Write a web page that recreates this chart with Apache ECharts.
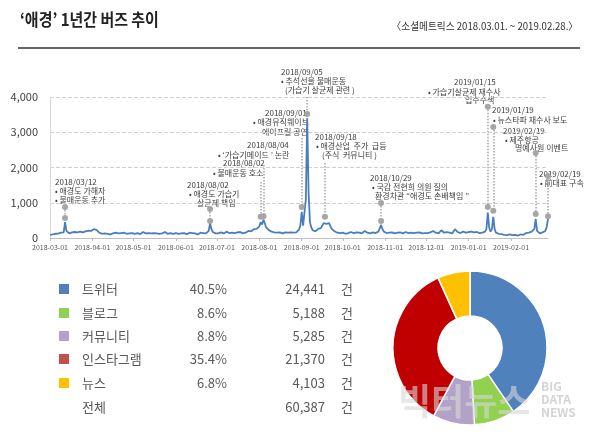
<!DOCTYPE html>
<html><head><meta charset="utf-8">
<script src="https://cdn.jsdelivr.net/npm/echarts@6/dist/echarts.min.js"></script>
<style>html,body{margin:0;padding:0;background:#fff}#c{width:600px;height:442px}</style>
</head><body><div id="c"></div>
<script>
// ---------- data ----------
const mar = [90,95,100,110,120,130,125,140,150,130,160,450,200,150,130,180,160,140,170,190,160,150,180,170,160,200,190,170,210,180,200];
const apr = [220,250,280,230,180,150,130,120,110,130,100,120,110,100,140,130,170,150,140,130,120,140,160,150,130,120,140,130,150,140];
const may = [130,120,150,140,120,110,130,170,150,130,120,140,110,130,160,140,120,130,150,120,110,130,140,170,150,120,110,140,130,120,150];
const jun = [140,130,120,150,130,160,140,120,110,130,150,180,140,120,130,110,100,120,150,130,140,160,130,150,200,420,250,170,140,130];
const jul = [150,130,170,160,140,130,150,180,160,140,130,150,170,140,130,160,150,170,140,130,160,150,180,200,170,190,220,250,230,260,300];
const aug = [330,450,380,520,420,300,250,220,200,180,170,160,190,150,140,160,150,130,170,160,140,150,130,160,170,150,140,160,200,240,350];
const sep = [740,350,300,1100,3400,1300,450,300,220,200,190,230,260,300,280,350,420,450,400,380,420,330,260,220,190,170,150,160,140,150];
const oct = [150,130,120,160,140,130,170,150,140,120,160,180,150,140,130,160,200,180,150,140,130,170,160,150,140,130,180,200,370,250,180];
const nov = [160,140,130,150,170,160,140,130,120,150,180,160,140,130,150,170,160,140,130,150,160,140,130,150,170,160,140,130,150,140];
const dec = [150,140,130,160,180,200,170,150,140,130,160,220,180,150,140,170,160,150,140,130,160,250,200,170,150,140,160,180,170,150,140];
const jan = [170,150,180,200,160,140,170,150,140,160,150,140,180,250,720,300,180,250,600,250,150,130,120,140,110,100,90,100,80,90,100];
const feb = [90,80,100,90,80,70,90,100,110,90,120,140,170,150,200,180,220,250,540,200,150,130,140,160,150,200,300,540];
const buzz = [].concat(mar,apr,may,jun,jul,aug,sep,oct,nov,dec,jan,feb);

const yTicks = [0,1000,2000,3000,4000];

const annDates  = ['2018-03-12','2018-06-26','2018-08-02','2018-08-04','2018-09-01','2018-09-05','2018-09-18','2018-10-29','2019-01-15','2019-01-19','2019-02-19','2019-02-28'];
const annTop    = [880,820,1590,2070,2840,4000,2130,990,3720,3150,2410,1760];
const annBottom = [570,480,600,620,880,3520,600,480,880,770,680,620];
const annTopDot = [true,true,false,false,false,false,false,true,true,true,true,true];
const annTexts = [
  ['2018/03/12','• 애경도 가해자','• 불매운동 추가'],
  ['2018/08/02','• 애경도 가습기','살균제 책임'],
  ['2018/08/02','• 불매운동 호소'],
  ['2018/08/04','• \u2018가습기메이드 \u2019 논란'],
  ['2018/09/01','• 애경뮤직웨이브','에이프릴 공연'],
  ['2018/09/05','• 추석선물 불매운동','(가습기 살균제 관련 )'],
  ['2018/09/18','• 애경산업  주가  급등','(주식  커뮤니티 )'],
  ['2018/10/29','• 국감 전현희 의원 질의','환경차관 \u201C애경도 손배책임 \u201D'],
  ['2019/01/15','• 가습기살균제 재수사','입수수색'],
  ['2019/01/19','• 뉴스타파 재수사 보도'],
  ['2019/02/19','• 제주항공','명예사원 이벤트'],
  ['2019/02/19','• 前대표 구속']
];

const channels = ['트위터','블로그','커뮤니티','인스타그램','뉴스'];
const shares   = ['40.5%','8.6%','8.8%','35.4%','6.8%'];
const counts   = [24441,5188,5285,21370,4103];
const totalLabel = '전체';
const total = 60387;

// ---------- layout / style ----------
const FONT = '"Noto Sans CJK KR", "Noto Sans", sans-serif';
const legendColors = ['#4f81bd','#92d050','#b3a2c7','#c0504d','#ffc000'];
const pieColors    = ['#4f81bd','#92d050','#b3a2c7','#c00000','#ffc000'];
const annLayout = [
  [[55,182],[55,191],[55,200]],
  [[187,185],[189,194],[197,203]],
  [[223,163],[213,173]],
  [[247,145],[218,155]],
  [[265,113],[253,122],[262,132]],
  [[281,72],[281,81],[285,90]],
  [[315,137],[316,146],[322,155]],
  [[370,178],[372,187],[375,196]],
  [[454,82],[428,92],[465,100]],
  [[492,110],[493,120]],
  [[503,131],[505,140],[515,148]],
  [[539,174],[540,183]]
];

const dates = [];
const start = Date.UTC(2018,2,1);
for (let i = 0; i < buzz.length; i++) {
  const d = new Date(start + i*86400000);
  dates.push(d.getUTCFullYear()+'-'+String(d.getUTCMonth()+1).padStart(2,'0')+'-'+String(d.getUTCDate()).padStart(2,'0'));
}
const monthStart = (idx) => String(dates[idx]).slice(8) === '01';

const graphic = [];
graphic.push({type:'text', x:20, y:20, scaleX:0.88, style:{text:'\u2018애경\u2019 1년간 버즈 추이', font:'bold 17px '+FONT, fill:'#222', textVerticalAlign:'middle'}});
graphic.push({type:'text', x:578, y:26, scaleX:0.92, style:{text:'〈소셜메트릭스 2018.03.01. ~ 2019.02.28.〉', font:'10.5px '+FONT, fill:'#333', textAlign:'right', textVerticalAlign:'middle'}});
graphic.push({type:'line', shape:{x1:18,y1:48,x2:580,y2:48}, style:{stroke:'#333', lineWidth:1.5}});
annTexts.forEach((lines, i) => {
  lines.forEach((t, j) => {
    graphic.push({type:'text', x:annLayout[i][j][0], y:annLayout[i][j][1],
      style:{text:t, font:'8px '+FONT, fill:'#404040', textVerticalAlign:'middle'}});
  });
});
const rowY = [289,313,336,359,383,407];
channels.forEach((n, i) => {
  graphic.push({type:'rect', shape:{x:59,y:rowY[i]-5,width:10,height:10}, style:{fill:legendColors[i]}});
  graphic.push({type:'text', x:82, y:rowY[i], style:{text:n, font:'13px '+FONT, fill:'#595959', textVerticalAlign:'middle'}});
  graphic.push({type:'text', x:227, y:rowY[i], style:{text:shares[i], font:'13px '+FONT, fill:'#595959', textAlign:'right', textVerticalAlign:'middle'}});
  graphic.push({type:'text', x:325, y:rowY[i], style:{text:counts[i].toLocaleString('en-US'), font:'13px '+FONT, fill:'#595959', textAlign:'right', textVerticalAlign:'middle'}});
  graphic.push({type:'text', x:341, y:rowY[i], style:{text:'건', font:'13px '+FONT, fill:'#595959', textVerticalAlign:'middle'}});
});
graphic.push({type:'text', x:82, y:rowY[5], style:{text:totalLabel, font:'13px '+FONT, fill:'#595959', textVerticalAlign:'middle'}});
graphic.push({type:'text', x:325, y:rowY[5], style:{text:total.toLocaleString('en-US'), font:'13px '+FONT, fill:'#595959', textAlign:'right', textVerticalAlign:'middle'}});
graphic.push({type:'text', x:341, y:rowY[5], style:{text:'건', font:'13px '+FONT, fill:'#595959', textVerticalAlign:'middle'}});
graphic.push({type:'text', x:398, y:401, z:100, style:{text:'빅터뉴스', font:'bold 36px '+FONT, fill:'rgba(215,215,215,0.6)', textVerticalAlign:'middle'}});
['BIG','DATA','NEWS'].forEach((t, i) => {
  graphic.push({type:'text', x:541, y:386+i*13, z:100, style:{text:t, font:'bold 12px '+FONT, fill:'rgba(205,205,205,0.85)', textVerticalAlign:'middle'}});
});

const markData = annDates.map((d, i) => [
  {coord:[d, annTop[i]], symbol: annTopDot[i] ? 'circle' : 'none', symbolSize:6},
  {coord:[d, annBottom[i]], symbol:'circle', symbolSize:6}
]);

const chart = echarts.init(document.getElementById('c'), null, {renderer:'canvas'});
chart.setOption({
  animation:false,
  backgroundColor:'#fff',
  textStyle:{fontFamily:FONT},
  grid:{left:50, right:52, top:97, bottom:204},
  xAxis:{type:'category', data:dates, boundaryGap:false,
    axisLine:{lineStyle:{color:'#bfbfbf'}},
    axisTick:{show:true, interval:monthStart, length:3, lineStyle:{color:'#bfbfbf'}},
    axisLabel:{interval:monthStart, fontSize:7, color:'#595959', margin:6, fontFamily:FONT},
    splitLine:{show:false}},
  yAxis:{type:'value', min:yTicks[0], max:yTicks[yTicks.length-1], interval:yTicks[1]-yTicks[0],
    axisLine:{show:true, lineStyle:{color:'#d9d9d9'}},
    axisTick:{show:false},
    axisLabel:{fontSize:11, color:'#404040', margin:12, fontFamily:FONT},
    splitLine:{lineStyle:{type:'dashed', color:'#d0d0d0'}}},
  series:[
    {type:'line', data:buzz, showSymbol:false, symbol:'none',
      lineStyle:{width:1.8, color:'#4a7ebb'}, itemStyle:{color:'#4a7ebb'},
      markLine:{silent:true, animation:false, label:{show:false},
        lineStyle:{type:'dotted', color:'#a6a6a6', width:1.5},
        itemStyle:{color:'#a6a6a6'},
        emphasis:{disabled:true},
        data:markData}},
    {type:'pie', center:[470,348], radius:[32,77], startAngle:90, clockwise:true,
      label:{show:false}, labelLine:{show:false}, silent:true,
      itemStyle:{borderColor:'#fff', borderWidth:1.5},
      data:channels.map((n,i)=>({name:n, value:counts[i], itemStyle:{color:pieColors[i]}}))}
  ],
  graphic:graphic
});
</script></body></html>
